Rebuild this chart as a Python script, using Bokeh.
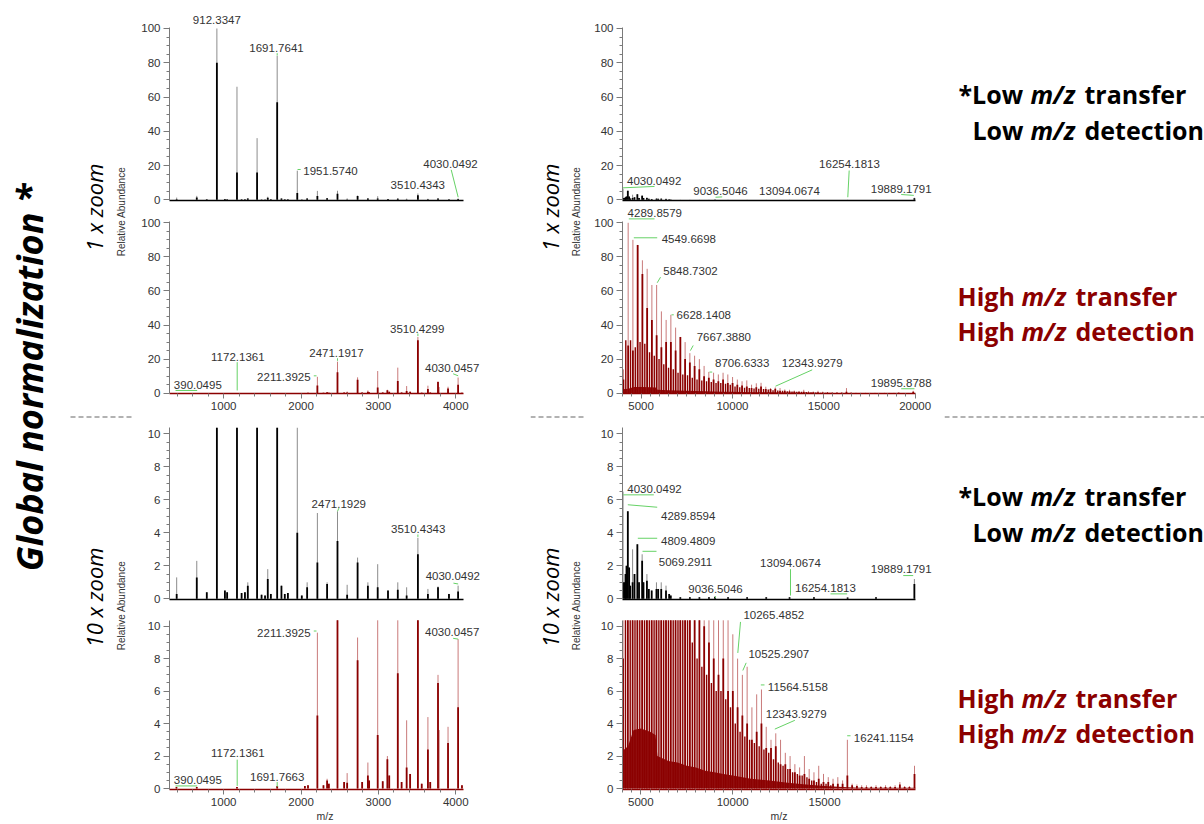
import math
from bokeh.plotting import figure
from bokeh.models import Range1d, FixedTicker, Label
from bokeh.layouts import row, column
from bokeh.embed import file_html
from bokeh.resources import INLINE

# ---------------- data ----------------
# Left m/z window, low m/z transfer (black): m/z, upper (light) height, lower (dark) height
lb_mz = [392.7, 652.5, 782.0, 912.33, 1016.0, 1045.0, 1172.14, 1232.0, 1275.0, 1312.0, 1431.95,
         1490.0, 1535.0, 1570.0, 1610.0, 1691.76, 1747.0, 1790.0, 1830.0, 1951.57, 2010.0, 2079.0,
         2211.39, 2337.0, 2471.19, 2596.0, 2731.0, 2864.0, 2990.8, 3124.0, 3250.6, 3365.0, 3510.43,
         3640.0, 3770.3, 3912.0, 4030.05]
lb_light = [1.3, 2.3, 0.4, 100, 0.5, 0.4, 66, 0.35, 0.4, 1.0, 36, 0.25, 0.2, 1.8, 0.3, 84, 0.8,
            0.3, 0.35, 17, 0.2, 1.0, 5.2, 1.0, 5.3, 0.85, 2.5, 1.0, 2.1, 0.5, 1.0, 0.7, 3.7, 0.6,
            0.75, 0.3, 0.8]
lb_dark = [0.3, 1.3, 0.4, 80, 0.5, 0.4, 16, 0.35, 0.4, 0.8, 16, 0.25, 0.2, 1.2, 0.3, 57, 0.8,
           0.3, 0.35, 4, 0.2, 0.7, 2.2, 0.9, 3.5, 0.25, 2.2, 0.8, 0.7, 0.5, 0.55, 0.2, 2.7, 0.3,
           0.7, 0.3, 0.45]

# Left m/z window, high m/z transfer (red)
lr_mz = [390.05, 652.5, 1172.14, 1691.77, 2050.0, 2090.0, 2211.39, 2290.0, 2337.0, 2360.0,
         2471.19, 2557.0, 2596.0, 2731.0, 2790.0, 2864.0, 2880.0, 2990.8, 3056.0, 3116.0, 3140.0,
         3250.6, 3300.0, 3365.0, 3410.0, 3510.43, 3560.0, 3640.0, 3670.0, 3770.3, 3785.0, 3900.0,
         4030.05, 4080.0]
lr_light = [0.1, 0.1, 0.1, 0.15, 0.15, 0.2, 9.6, 0.2, 0.6, 0.3, 18.5, 0.4, 0.95, 9.3, 0.4, 1.6,
            0.5, 13.0, 0.45, 2.0, 0.8, 15.0, 0.4, 4.2, 0.9, 33.0, 0.3, 4.4, 0.4, 7.0, 3.6, 3.8,
            9.2, 0.2]
lr_dark = [0.1, 0.1, 0.1, 0.15, 0.15, 0.2, 4.5, 0.2, 0.5, 0.3, 12.3, 0.4, 0.35, 7.9, 0.4, 0.8,
           0.5, 3.3, 0.45, 1.8, 0.8, 7.1, 0.4, 1.3, 0.9, 31.0, 0.3, 2.4, 0.4, 6.5, 0.0, 2.8,
           5.0, 0.2]

# Right m/z window, low m/z transfer (black)
rb_mz = [4030.05, 4127.0, 4163.0, 4217.0, 4289.86, 4362.0, 4420.0, 4549.67, 4653.0, 4809.48,
         4900.0, 5069.29, 5143.0, 5329.10, 5434.0, 5588.91, 5848.73, 5942.0, 6108.54, 6368.35,
         6541.0, 6628.14, 7147.78, 7667.39, 8187.01, 8706.63, 9036.50, 9745.87, 10785.10,
         11824.33, 13094.07, 14422.43, 16254.18, 17799.96, 19889.18]
rb_light = [6.5, 1.0, 1.5, 2.0, 5.3, 1.9, 0.8, 3.0, 1.5, 3.3, 1.0, 2.7, 1.0, 1.5, 0.6, 0.5, 1.0,
            0.6, 1.0, 0.8, 0.3, 0.2, 0.1, 0.1, 0.1, 0.1, 0.12, 0.1, 0.1, 0.1, 0.1, 0.1, 0.08,
            0.1, 1.2]
rb_dark = [1.0, 1.0, 1.5, 2.0, 5.3, 1.9, 0.8, 1.0, 1.5, 3.3, 1.0, 2.3, 1.0, 1.1, 0.6, 0.5, 0.6,
           0.6, 0.6, 0.5, 0.3, 0.2, 0.1, 0.1, 0.1, 0.1, 0.12, 0.1, 0.1, 0.1, 0.1, 0.1, 0.08,
           0.1, 0.9]

# Right m/z window, high m/z transfer (red): main cluster series
rr_mz = [4030.05, 4289.86, 4549.67, 4809.48, 5069.29, 5329.10, 5588.91, 5848.73, 6108.54,
         6368.35, 6628.14, 6887.97, 7147.78, 7407.58, 7667.39, 7927.20, 8187.01, 8446.82,
         8706.63, 8966.44, 9226.25, 9486.06, 9745.87, 10005.68, 10265.49, 10525.29, 10785.10,
         11044.91, 11304.72, 11564.52, 11824.33, 12084.14, 12343.93, 12603.76, 12863.57,
         13123.38, 13383.19, 13643.00, 13902.81, 14162.62, 14422.43, 14682.24, 14942.05,
         15201.86, 15461.67, 15721.48, 15981.29, 16241.12, 16500.91, 16760.72, 17020.53,
         17280.34, 17540.15, 17799.96, 18059.77, 18319.58, 18579.39, 18839.20, 19099.01,
         19358.82, 19618.63, 19895.88]
rr_light = [14, 100, 90, 87, 78, 73, 63.5, 63.5, 48, 43, 46, 38.5, 33, 30, 23.5, 22, 20, 16,
            12.5, 12, 11, 12, 11, 9.5, 8.0, 7.0, 7.5, 5.0, 5.8, 6.1, 3.8, 3.0, 3.4, 3.0, 2.2,
            2.0, 1.5, 1.3, 2.0, 1.2, 1.0, 1.4, 0.9, 0.7, 0.6, 0.7, 0.5, 3.0, 0.3, 0.25, 0.2,
            0.2, 0.15, 0.2, 0.15, 0.2, 0.15, 0.2, 0.4, 0.15, 0.15, 1.4]
rr_dark = [8, 28, 25, 87, 70, 50, 43, 34, 27, 30, 30, 25, 33, 20, 18, 16, 14, 10, 9, 8, 7, 8,
           6, 6, 5.0, 4.5, 4.0, 3.0, 3.5, 4.0, 2.5, 2.5, 2.6, 1.5, 1.5, 1.2, 1.0, 0.8, 0.9, 0.6,
           0.5, 0.6, 0.4, 0.4, 0.3, 0.3, 0.3, 0.8, 0.2, 0.15, 0.1, 0.1, 0.1, 0.1, 0.1, 0.1, 0.1,
           0.1, 0.25, 0.1, 0.1, 0.9]
# secondary (in-between) series of the red high-m/z spectrum
rr2_mz = [4160, 4420, 4680, 4940, 5200, 5460, 5720, 5980, 6240, 6500, 6760, 7020, 7280, 7540,
          7800, 8060, 8320, 8580, 8840, 9100, 9360, 9620, 9880, 10140, 10400, 10660, 10920,
          11180, 11440, 11700, 11960, 12220, 12480, 12740, 13000, 13260, 13520, 13780, 14040,
          14300, 14560, 14820, 15080, 15340]
rr2_h = [31, 31, 27, 30, 29, 24, 22, 20, 17, 15, 14, 12, 11, 10.5, 9, 8, 7.5, 7, 6.5, 6, 6,
         5.5, 5, 4, 3.5, 3.2, 3, 2.8, 2.6, 2.4, 2.2, 1.8, 1.6, 1.4, 1.2, 1.0, 0.9, 0.8, 0.7,
         0.5, 0.4, 0.3, 0.3, 0.2]
# unresolved dense base of the red high-m/z spectrum
rr_base_mz = [3980, 4300, 4600, 5000, 5500, 5800, 5900, 6500, 7000, 7500, 8000, 8500, 9000,
              9500, 10000, 11000, 12000, 13000, 14000, 15000, 16000, 17000, 19950]
rr_base_h = [2.3, 2.6, 3.6, 3.7, 3.5, 3.3, 2.0, 1.7, 1.6, 1.4, 1.3, 1.1, 1.0, 0.9, 0.8, 0.6,
             0.5, 0.35, 0.25, 0.15, 0.1, 0.05, 0.05]

# peak annotations: (text, label x, label y, leader (x0, y0, x1, y1) or None)
l1_ann = [("912.3347", 912, 104.7, None),
          ("1691.7641", 1683, 88.7, (1691.76, 84.2, 1691.76, 85.6)),
          ("1951.5740", 2381, 16.7, (1955, 17.7, 1995, 17.7)),
          ("3510.4343", 3509, 8.7, None),
          ("4030.0492", 3932, 21.0, (3941, 17.5, 4031, 1.5))]
l2_ann = [("390.0495", 666, 5.1, (378, 1.6, 658, 1.6)),
          ("1172.1361", 1183, 21.1, (1175, 18.2, 1175, 1.6)),
          ("2211.3925", 1778, 9.4, (2165, 10.2, 2200, 10.2)),
          ("2471.1917", 2458, 23.5, (2471.2, 19.0, 2471.2, 20.5)),
          ("3510.4299", 3501, 37.8, (3510.4, 33.5, 3510.4, 35.0)),
          ("4030.0457", 3954, 14.7, (3966, 11.4, 4031, 10.2))]
l3_ann = [("2471.1929", 2488, 5.76, (2471.2, 5.3, 2490, 5.5)),
          ("3510.4343", 3514, 4.24, (3510.4, 3.75, 3510.4, 3.9)),
          ("4030.0492", 3962, 1.37, (3970, 0.95, 4031, 0.9))]
l4_ann = [("2211.3925", 1778, 9.56, (2165, 9.7, 2200, 9.7)),
          ("4030.0457", 3954, 9.65, (3966, 9.25, 4031, 9.2)),
          ("1172.1361", 1183, 2.18, (1175, 1.78, 1175, 0.16)),
          ("390.0495", 666, 0.5, (378, 0.16, 658, 0.16)),
          ("1691.7663", 1692, 0.73, (1691.8, 0.1, 1691.8, 0.4))]
r1_ann = [("4030.0492", 5726, 11.0, (4030, 7.0, 5742, 7.8)),
          ("9036.5046", 9335, 5.4, (9063, 1.5, 9427, 1.7)),
          ("13094.0674", 13091, 5.4, None),
          ("16254.1813", 16357, 21.0, (16340, 17.1, 16264, 1.5)),
          ("19889.1791", 19172, 6.4, (19172, 3.1, 19858, 2.6))]
r2_ann = [("4289.8579", 5748, 105.5, (4325, 102.3, 5731, 102.3)),
          ("4549.6698", 7610, 90.6, (4600, 91.2, 5880, 91.2)),
          ("5848.7302", 7702, 72.0, (5880, 64.8, 6062, 68.1)),
          ("6628.1408", 8431, 45.6, (6662, 46.0, 6788, 46.0)),
          ("7667.3880", 9526, 32.9, (7697, 25.0, 7850, 28.0)),
          ("8706.6333", 10533, 17.6, (8743, 12.4, 8890, 12.4)),
          ("12343.9279", 14365, 17.6, (12356, 4.1, 14365, 13.7)),
          ("19895.8788", 19237, 6.1, (19237, 2.6, 19965, 2.6))]
r3_ann = [("4030.0492", 5742, 6.67, (4038, 6.3, 5704, 6.3)),
          ("4289.8594", 7576, 4.99, (4289.9, 5.7, 5889, 5.55)),
          ("4809.4809", 7576, 3.49, (4834, 3.67, 5889, 3.67)),
          ("5069.2911", 7430, 2.26, (5089, 2.88, 5851, 2.88)),
          ("9036.5046", 9063, 0.6, (9063, 0.05, 9063, 0.15)),
          ("13094.0674", 13145, 2.2, (13145, 1.8, 13145, 0.2)),
          ("16254.1813", 15050, 0.67, (15323, 0.3, 16230, 0.3)),
          ("19889.1791", 19172, 1.82, (19281, 1.41, 19825, 1.41))]
r4_ann = [("10265.4852", 12237, 10.7, (10278, 8.35, 10424, 10.26)),
          ("10525.2907", 12509, 8.28, (10550, 7.27, 10732, 7.74)),
          ("11564.5158", 13544, 6.28, (11530, 6.38, 11730, 6.38)),
          ("12343.9279", 13455, 4.6, (12292, 3.66, 13381, 4.2)),
          ("16241.1154", 18225, 3.13, (16232, 3.25, 16412, 3.25))]

# axis ticks
y100_ticks = [0, 20, 40, 60, 80, 100]
y10_ticks = [0, 2, 4, 6, 8, 10]
left_x_ticks = [1000, 2000, 3000, 4000]
right_x_ticks = [5000, 10000, 15000, 20000]
right_x_ticks_short = [5000, 10000, 15000]

y100_minor = [v for v in range(0, 101, 5) if v % 20]
y10_minor = [v / 2 for v in range(0, 21) if v % 4]
left_x_minor = [v for v in range(400, 4101, 200) if v % 1000]
right_x_minor = [v for v in range(4000, 20001, 500) if v % 5000]
right_x_minor_short = [v for v in range(4000, 19951, 500) if v % 5000]

# ---------------- styles ----------------
FONT = "Liberation Sans"
TXT = "#333333"
AXC = "#7a7a7a"
GREEN = "#66d266"
BLACK_D, BLACK_L = "#000000", "#8c8c8c"
RED_D, RED_L = "#8b0000", "#c97a7a"
RED_TXT = "#8b0000"


def clip(vals, top):
    return [min(v, top) for v in vals]


def panel(w, h, xr, xb, yr, yb, borders, mz, light, dark, dcol, lcol, yt, ym, ann,
          xt=None, xm=None, xlabel=None, base=None, sec=None):
    bl, br, bt, bb = borders
    top = yb[1]
    p = figure(width=w, height=h, x_range=Range1d(*xr), y_range=Range1d(*yr),
               output_backend="svg", toolbar_location=None,
               min_border_left=bl, min_border_right=br, min_border_top=bt,
               min_border_bottom=bb)
    p.outline_line_color = None
    p.xgrid.visible = False
    p.ygrid.visible = False
    if base is not None:
        p.varea(x=base[0], y1=0, y2=clip(base[1], top), fill_color=dcol, fill_alpha=0.95)
    p.segment(x0=mz, y0=0, x1=mz, y1=clip(light, top), line_color=lcol, line_width=1)
    if sec is not None:
        p.segment(x0=sec[0], y0=0, x1=sec[0], y1=clip(sec[1], top), line_color=dcol,
                  line_width=1.4)
    p.segment(x0=mz, y0=0, x1=mz, y1=clip(dark, top), line_color=dcol, line_width=1.8)

    lx0, ly0, lx1, ly1 = [], [], [], []
    for text, tx, ty, lead in ann:
        p.add_layout(Label(x=tx, y=ty, text=text, text_align="center",
                           text_baseline="middle", text_font=FONT,
                           text_font_size="11.5px", text_color=TXT))
        if lead is not None:
            lx0.append(lead[0]); ly0.append(lead[1]); lx1.append(lead[2]); ly1.append(lead[3])
    if lx0:
        p.segment(x0=lx0, y0=ly0, x1=lx1, y1=ly1, line_color=GREEN, line_width=1)

    ya = p.yaxis[0]
    ya.bounds = yb
    ya.ticker = FixedTicker(ticks=yt, minor_ticks=ym)
    ya.axis_line_color = AXC
    ya.major_tick_line_color = AXC
    ya.minor_tick_line_color = AXC
    ya.major_tick_in = 0
    ya.major_tick_out = 6
    ya.minor_tick_in = 0
    ya.minor_tick_out = 3
    ya.major_label_text_font = FONT
    ya.major_label_text_font_size = "11.5px"
    ya.major_label_text_color = TXT
    ya.major_label_standoff = 3

    xa = p.xaxis[0]
    xa.bounds = xb
    xa.axis_line_color = dcol
    xa.axis_line_width = 1.5
    if xt is not None:
        xa.ticker = FixedTicker(ticks=xt, minor_ticks=xm)
        xa.major_tick_line_color = AXC
        xa.minor_tick_line_color = AXC
        xa.major_tick_in = 0
        xa.major_tick_out = 5
        xa.minor_tick_in = 0
        xa.minor_tick_out = 3
        xa.major_label_text_font = FONT
        xa.major_label_text_font_size = "11.5px"
        xa.major_label_text_color = TXT
        xa.major_label_standoff = 3
    else:
        xa.ticker = FixedTicker(ticks=[])
        xa.major_tick_out = 0
        xa.minor_tick_out = 0
        xa.major_label_standoff = 0
    if xlabel:
        xa.axis_label = xlabel
        xa.axis_label_text_font = FONT
        xa.axis_label_text_font_size = "10.5px"
        xa.axis_label_text_font_style = "normal"
        xa.axis_label_text_color = TXT
        xa.axis_label_standoff = 1
    return p


def separator(w):
    s = figure(width=w, height=3, x_range=Range1d(0, 1), y_range=Range1d(0, 1),
               output_backend="svg", toolbar_location=None, min_border=0,
               x_axis_type=None, y_axis_type=None)
    s.outline_line_color = None
    s.grid.visible = False
    s.segment(x0=0, y0=0.5, x1=1, y1=0.5, line_color="#999999", line_width=1.5, line_dash="5 3")
    return s


def text_fig(x0, x1):
    f = figure(width=x1 - x0, height=824, x_range=Range1d(x0, x1), y_range=Range1d(0, 824),
               output_backend="svg", toolbar_location=None, min_border=0,
               x_axis_type=None, y_axis_type=None)
    f.outline_line_color = None
    f.grid.visible = False
    f.segment(x0=max(x0, 70), y0=824 - 416.5, x1=x1, y1=824 - 416.5, line_color="#999999",
              line_width=1.5, line_dash="5 3")
    return f


def put(f, x, y, text, size, style="normal", color="#000000", font="Open Sans",
        angle=0.0, align="left", baseline="alphabetic"):
    f.add_layout(Label(x=x, y=824 - y, text=text, text_font=font, text_font_size=size,
                       text_font_style=style, text_color=color, angle=angle,
                       text_align=align, text_baseline=baseline))


# ---------------- panels ----------------
LW, RW = 396, 358
LB = (35, 50)
RB = (36, 9)
H = [206, 209, 188, 218]
TB = [(10, 6), (1, 22), (9, 7), (0, 32)]
YR = [(-0.4, 110.5), (-0.18, 108.98), (-0.04, 10.38), (-0.06, 11.21)]
YB = [(-0.4, 100.6), (-0.18, 100.76), (-0.04, 10.38), (-0.06, 10.36)]
XL, XL_B = (300, 4319.6), (300, 4100)
XR_A, XR_A_B = (4000, 21039), (4000, 19950)
XR_B, XR_B_B = (3980, 21115), (3980, 20020)

L1 = panel(LW, H[0], XL, XL_B, YR[0], YB[0], LB + TB[0], lb_mz, lb_light, lb_dark, BLACK_D,
           BLACK_L, y100_ticks, y100_minor, l1_ann)
L2 = panel(LW, H[1], XL, XL_B, YR[1], YB[1], LB + TB[1], lr_mz, lr_light, lr_dark, RED_D,
           RED_L, y100_ticks, y100_minor, l2_ann, left_x_ticks, left_x_minor)
L3 = panel(LW, H[2], XL, XL_B, YR[2], YB[2], LB + TB[2], lb_mz, lb_light, lb_dark, BLACK_D,
           BLACK_L, y10_ticks, y10_minor, l3_ann)
L4 = panel(LW, H[3], XL, XL_B, YR[3], YB[3], LB + TB[3], lr_mz, lr_light, lr_dark, RED_D,
           RED_L, y10_ticks, y10_minor, l4_ann, left_x_ticks, left_x_minor, "m/z")

R1 = panel(RW, H[0], XR_A, XR_A_B, YR[0], YB[0], RB + TB[0], rb_mz, rb_light, rb_dark,
           BLACK_D, BLACK_L, y100_ticks, y100_minor, r1_ann)
R2 = panel(RW, H[1], XR_B, XR_B_B, YR[1], YB[1], RB + TB[1], rr_mz, rr_light, rr_dark, RED_D,
           RED_L, y100_ticks, y100_minor, r2_ann, right_x_ticks, right_x_minor,
           base=(rr_base_mz, rr_base_h), sec=(rr2_mz, rr2_h))
R3 = panel(RW, H[2], XR_A, XR_A_B, YR[2], YB[2], RB + TB[2], rb_mz, rb_light, rb_dark,
           BLACK_D, BLACK_L, y10_ticks, y10_minor, r3_ann)
R4 = panel(RW, H[3], XR_A, XR_A_B, YR[3], YB[3], RB + TB[3], rr_mz, rr_light, rr_dark, RED_D,
           RED_L, y10_ticks, y10_minor, r4_ann, right_x_ticks_short, right_x_minor_short,
           "m/z", base=(rr_base_mz, rr_base_h), sec=(rr2_mz, rr2_h))

# ---------------- side texts ----------------
A = text_fig(0, 134)
put(A, 29, 377, "Global normalization *", "36px", "bold italic", angle=math.pi / 2,
    align="center", baseline="middle")
for yy, t in ((207, "1 x zoom"), (597, "10 x zoom")):
    put(A, 93, yy, t, "22px", "italic", angle=math.pi / 2, align="center", baseline="middle")
for yy in (211, 605):
    put(A, 121, yy, "Relative Abundance", "10px", color=TXT, font=FONT, angle=math.pi / 2,
        align="center", baseline="middle")

C = text_fig(530, 586)
for yy, t in ((207, "1 x zoom"), (597, "10 x zoom")):
    put(C, 549, yy, t, "22px", "italic", angle=math.pi / 2, align="center", baseline="middle")
for yy in (211, 605):
    put(C, 576, yy, "Relative Abundance", "10px", color=TXT, font=FONT, angle=math.pi / 2,
        align="center", baseline="middle")

E = text_fig(944, 1204)
for off in (0, 402):
    put(E, 958, 93 + off, "*Low", "25px", "bold")
    put(E, 1030, 93 + off, "m/z", "25px", "bold italic")
    put(E, 1084, 93 + off, "transfer", "25px", "bold")
    put(E, 972, 129 + off, "Low", "25px", "bold")
    put(E, 1030, 129 + off, "m/z", "25px", "bold italic")
    put(E, 1084, 129 + off, "detection", "25px", "bold")
    put(E, 957, 295 + off, "High", "25px", "bold", RED_TXT)
    put(E, 1021, 295 + off, "m/z", "25px", "bold italic", RED_TXT)
    put(E, 1075, 295 + off, "transfer", "25px", "bold", RED_TXT)
    put(E, 957, 330 + off, "High", "25px", "bold", RED_TXT)
    put(E, 1021, 330 + off, "m/z", "25px", "bold italic", RED_TXT)
    put(E, 1075, 330 + off, "detection", "25px", "bold", RED_TXT)

B = column(L1, L2, separator(LW), L3, L4, spacing=0)
D = column(R1, R2, separator(RW), R3, R4, spacing=0)
page = row(A, B, C, D, E, spacing=0)

with open("out.html", "w") as fh:
    fh.write(file_html(page, INLINE, title="Global normalization"))
